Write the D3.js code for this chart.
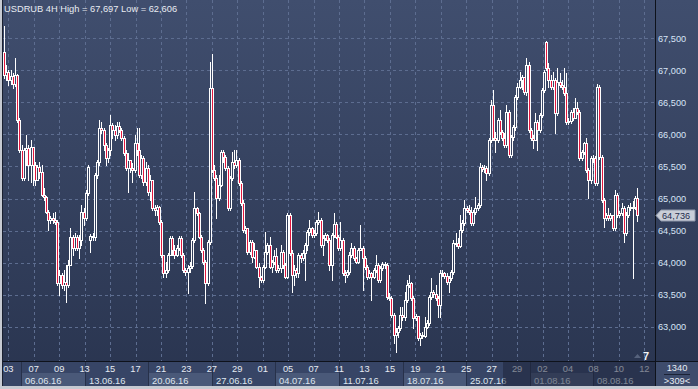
<!DOCTYPE html>
<html>
<head>
<meta charset="utf-8">
<script src="https://cdn.jsdelivr.net/npm/d3@7"></script>
<style>
html, body { margin: 0; padding: 0; background: #c6cad2; overflow: hidden; }
svg { display: block; font-family: "Liberation Sans", Arial, sans-serif; }
</style>
</head>
<body>
<svg id="chart" width="698" height="389"></svg>
<script>
// USDRUB 4H candles (open = previous close except listed gaps)
const firstOpen = 67.29;
const gapIndex = [39, 245];
const gapOpen  = [64.35, 67.44];

const closes = [
  66.93,66.97,66.85,66.91,66.79,66.93,66.22,65.76,65.32,65.76,
  65.79,65.52,65.80,65.52,65.29,65.49,65.41,65.05,65.02,64.79,
  64.67,64.70,64.67,64.63,63.68,63.81,63.65,63.70,63.65,63.96,
  64.40,64.23,64.40,64.23,64.35,64.79,64.70,65.09,65.49,64.41,
  64.40,65.37,65.57,66.10,66.07,65.83,65.63,65.76,66.15,66.07,
  65.99,66.13,66.07,65.94,65.71,65.48,65.60,65.48,65.45,65.87,
  65.76,65.37,65.63,65.26,65.48,65.10,65.29,64.85,64.82,64.87,
  64.63,64.12,63.84,63.89,64.12,64.38,64.20,64.12,64.23,64.38,
  64.12,63.89,63.85,63.92,63.95,64.35,64.85,64.77,64.40,64.20,
  64.01,63.68,64.32,66.72,65.45,65.32,65.01,65.21,65.73,65.65,
  65.48,64.85,65.32,65.57,65.52,65.60,65.24,64.93,64.51,64.54,
  64.17,64.32,64.09,64.20,63.93,63.78,63.73,63.93,64.17,64.27,
  63.93,64.01,64.10,63.89,63.92,64.17,63.96,63.78,64.74,64.15,
  63.81,63.89,63.84,64.12,64.07,64.15,64.27,64.48,64.54,64.43,
  64.46,64.63,64.67,64.27,64.38,64.43,64.35,63.96,64.43,64.60,
  64.40,64.23,64.35,63.84,63.81,63.85,64.12,64.23,64.07,64.01,
  64.20,64.23,64.07,63.93,63.78,63.84,63.78,63.89,63.96,63.73,
  63.92,63.98,63.96,63.46,63.45,63.18,62.87,62.92,62.98,63.18,
  63.15,63.42,63.65,63.68,63.45,63.14,63.17,62.82,62.87,62.85,
  62.99,63.06,63.46,63.54,63.51,63.45,63.34,63.84,63.84,63.79,
  63.70,63.76,63.85,64.30,64.30,64.26,64.51,64.62,64.85,64.82,
  64.79,64.62,64.79,64.85,64.90,65.49,65.46,65.48,65.40,65.91,
  66.46,65.94,65.91,66.22,66.04,65.94,65.83,66.35,65.68,65.96,
  66.12,66.58,66.74,66.85,66.90,66.66,67.08,66.07,65.94,65.91,
  66.19,66.07,66.30,66.69,66.97,67.04,66.85,66.74,66.85,66.33,
  66.82,66.77,66.74,66.65,66.19,66.21,66.35,66.26,66.41,66.35,
  65.63,65.73,65.87,65.45,65.29,65.63,65.63,65.24,66.74,65.65,
  64.98,64.70,64.74,64.70,64.74,64.54,65.05,64.74,64.77,64.85,
  64.46,64.74,64.87,64.85,64.87,65.01,64.736
];

const highs = [
  67.697,67.08,67.01,67.01,66.96,67.19,66.94,66.25,65.83,65.79,
  65.99,65.83,65.91,65.60,65.57,65.52,65.57,65.52,65.16,65.04,
  64.82,64.73,64.77,64.79,64.67,63.89,63.84,63.89,63.96,64.04,
  64.54,64.43,64.46,64.43,64.43,64.90,64.85,65.13,65.52,64.45,
  64.46,65.40,65.60,66.22,66.19,66.10,65.87,65.79,66.30,66.18,
  66.15,66.19,66.19,66.10,65.97,65.76,65.71,65.60,65.55,65.99,
  66.10,66.10,65.68,65.66,65.57,65.52,65.37,65.29,64.90,64.90,
  64.88,64.67,64.12,64.01,64.15,64.41,64.41,64.27,64.27,64.41,
  64.41,64.15,63.92,63.96,64.01,64.38,65.10,64.87,64.79,64.43,
  64.23,64.04,64.35,67.13,67.25,65.52,65.37,65.37,65.76,65.76,
  65.68,65.51,65.35,65.73,65.76,65.76,65.63,65.27,64.98,64.57,
  64.54,64.35,64.35,64.30,64.17,63.99,63.79,63.96,64.48,64.30,
  64.40,64.04,64.20,64.23,63.96,64.27,64.20,63.99,64.77,64.77,
  64.20,63.96,63.92,64.15,64.15,64.20,64.30,64.51,64.67,64.56,
  64.51,64.67,64.79,64.70,64.43,64.46,64.45,64.38,64.46,64.77,
  64.63,64.43,64.63,64.38,63.89,63.89,64.17,64.30,64.26,64.09,
  64.23,64.59,64.26,64.10,63.96,63.89,63.85,63.92,64.12,63.99,
  63.95,64.01,64.01,63.99,63.53,63.48,63.21,62.98,63.01,63.31,
  63.31,63.54,63.73,63.81,63.70,63.48,63.20,63.17,62.90,62.92,
  63.15,63.10,63.49,63.76,63.57,63.65,63.48,63.89,63.89,63.85,
  63.84,63.79,63.89,64.35,64.46,64.38,64.74,64.67,64.98,64.88,
  64.90,64.87,64.82,65.02,64.93,65.55,65.52,65.52,65.51,65.94,
  66.54,66.69,66.04,66.26,66.38,66.07,66.02,66.46,66.38,65.99,
  66.15,66.62,66.80,66.97,66.93,66.88,67.19,67.13,66.10,65.99,
  66.33,66.22,66.33,66.72,67.01,67.46,67.11,66.93,66.97,66.88,
  67.04,66.96,66.85,67.04,66.96,66.26,66.38,66.41,66.57,66.51,
  66.38,65.76,65.88,65.94,65.48,65.66,65.68,65.66,66.79,66.77,
  65.68,65.01,64.77,64.85,64.77,64.74,65.13,65.08,64.80,64.93,
  64.88,64.79,64.90,64.93,64.96,65.04,65.16
];

const lows = [
  66.88,66.85,66.77,66.79,66.72,66.76,66.19,65.73,65.29,65.29,
  65.52,65.29,65.26,65.21,65.21,65.29,65.32,65.04,64.98,64.77,
  64.51,64.62,64.62,64.60,63.65,63.49,63.60,63.57,63.39,63.62,
  63.96,64.12,64.20,64.20,64.07,64.27,64.59,64.67,65.05,64.17,
  64.35,64.35,65.32,65.52,66.02,65.76,65.52,65.57,65.68,65.94,
  65.91,65.94,66.04,65.91,65.68,65.45,65.10,65.41,65.26,65.41,
  65.68,65.34,65.32,65.21,65.21,65.05,64.98,64.82,64.74,64.74,
  64.60,64.09,63.78,63.78,63.85,64.12,64.12,64.07,64.10,64.20,
  64.09,63.85,63.81,63.53,63.85,63.92,64.32,64.74,64.38,64.17,
  63.98,63.37,63.65,64.29,65.41,65.29,64.70,64.98,65.19,65.57,
  65.45,64.82,64.82,65.29,65.48,65.49,65.21,64.90,64.48,64.46,
  64.13,64.13,64.01,64.07,63.92,63.62,63.70,63.70,63.92,64.13,
  63.92,63.85,63.98,63.85,63.85,63.85,63.92,63.76,63.76,64.12,
  63.54,63.65,63.78,63.78,64.01,64.04,63.73,64.20,64.43,64.40,
  64.40,64.43,64.60,64.24,64.12,64.35,64.32,63.89,63.73,64.40,
  64.38,64.20,64.20,63.81,63.70,63.78,63.82,64.09,64.04,63.99,
  63.99,64.20,63.57,63.90,63.74,63.76,63.42,63.76,63.85,63.70,
  63.70,63.89,63.92,63.43,63.42,63.15,62.75,62.606,62.84,62.95,
  63.10,63.10,63.39,63.62,63.42,62.98,63.10,62.79,62.71,62.82,
  62.84,62.98,63.03,63.43,63.46,63.42,63.15,63.15,63.79,63.76,
  63.67,63.54,63.73,63.82,64.26,64.23,64.24,64.48,64.59,64.79,
  64.76,64.59,64.59,64.76,64.82,64.87,65.43,65.41,65.29,65.37,
  65.88,65.91,65.73,65.88,66.01,65.91,65.80,65.80,65.65,65.65,
  65.91,66.07,66.55,66.72,66.71,66.63,66.62,66.04,65.91,65.79,
  65.91,65.76,66.04,66.27,66.66,67.01,66.74,66.71,66.71,66.02,
  66.30,66.74,66.71,66.62,66.16,66.16,66.18,66.22,66.26,66.32,
  65.60,65.60,65.70,65.41,65.01,65.24,65.57,65.21,65.21,65.62,
  64.95,64.56,64.67,64.67,64.67,64.51,64.51,64.71,64.71,64.74,
  64.32,64.43,64.71,64.82,63.76,64.84,64.65
];

// x axis: one label every second trading day, weekly boxes
const dayTicks = ["03","07","09","13","15","17","21","23","27","29","01","05","07",
                  "11","13","15","19","21","25","27","29","02","04","08","10","12"];
const weekLabels = ["06.06.16","13.06.16","20.06.16","27.06.16","04.07.16",
                    "11.07.16","18.07.16","25.07.16","01.08.16","08.08.16"];
const priceTicks = [63.0,63.5,64.0,64.5,65.0,65.5,66.0,66.5,67.0,67.5];
const barCountText = "1340";
const scrollText = ">309<";
const zoomText = "7";

// -------- layout --------
const W = 698, H = 389;
const PL = 3, PR = 655, PT = 0, PB = 361, AB = 386;

const svg = d3.select("#chart");
const defs = svg.append("defs");
const grad = defs.append("linearGradient")
    .attr("id", "bg").attr("gradientUnits", "userSpaceOnUse")
    .attr("x1", 0).attr("y1", 0).attr("x2", 0).attr("y2", H);
grad.append("stop").attr("offset", 0).attr("stop-color", "#404e6e");
grad.append("stop").attr("offset", 1).attr("stop-color", "#29344f");
defs.append("clipPath").attr("id", "plotclip")
    .append("rect").attr("x", PL).attr("y", PT).attr("width", PR - PL).attr("height", PB - PT);

svg.append("rect").attr("width", W).attr("height", H).attr("fill", "#c6cad2");
svg.append("rect").attr("x", PL).attr("y", 0).attr("width", W - PL).attr("height", AB)
    .attr("fill", "url(#bg)");

const n = Math.min(closes.length, highs.length, lows.length);
const opens = closes.slice(0, n).map(function(c, i){
    const g = gapIndex.indexOf(i);
    if (g >= 0) return gapOpen[g];
    return i === 0 ? firstOpen : closes[i - 1];
});

const x = d3.scaleLinear().domain([0, n - 1]).range([4, 637]);
const dayX = d3.scaleLinear().domain([0, 50]).range([8.3, 644.3]);
const y = d3.scaleLinear().domain([63.0, 67.5]).range([326.7, 38.3]);

// grid
const grid = svg.append("g").attr("clip-path", "url(#plotclip)")
    .attr("stroke", "#5d6d90").attr("stroke-width", 1).attr("stroke-dasharray", "3,3");
grid.selectAll(".hg").data(priceTicks).join("line")
    .attr("x1", PL).attr("x2", PR)
    .attr("y1", d => Math.round(y(d)) + 0.5).attr("y2", d => Math.round(y(d)) + 0.5);
grid.selectAll(".vg").data(dayTicks).join("line")
    .attr("x1", (d, i) => Math.round(dayX(i * 2)) + 0.5)
    .attr("x2", (d, i) => Math.round(dayX(i * 2)) + 0.5)
    .attr("y1", PT).attr("y2", PB);

// candles
const candles = svg.append("g").attr("clip-path", "url(#plotclip)");
const bars = d3.range(n);
bars.forEach(function(i){
    const xi = Math.round(x(i));
    const o = opens[i], c = closes[i];
    const yTop = Math.round(y(Math.max(o, c)));
    const yBot = Math.round(y(Math.min(o, c)));
    const g = candles.append("g");
    g.append("line")
        .attr("x1", xi + 0.5).attr("x2", xi + 0.5)
        .attr("y1", Math.round(y(highs[i]))).attr("y2", Math.round(y(lows[i])) + 1)
        .attr("stroke", "#ffffff").attr("stroke-width", 1);
    g.append("rect")
        .attr("x", xi - 0.5).attr("y", yTop + 0.5)
        .attr("width", 2).attr("height", Math.max(yBot - yTop, 1))
        .attr("fill", c < o ? "#e3173e" : "url(#bg)")
        .attr("stroke", "#ffffff").attr("stroke-width", 1);
});

// bottom axis panel
const axisG = svg.append("g");
axisG.append("rect").attr("x", PL).attr("y", PB).attr("width", PR - PL).attr("height", AB - PB)
    .attr("fill", "#374566");
weekLabels.forEach(function(w, k){
    const x0 = dayX(1 + k * 5), x1 = Math.min(dayX(6 + k * 5), PR);
    if (k % 2 === 0) {
        axisG.append("rect").attr("x", Math.round(x0) + 1).attr("y", 373)
            .attr("width", Math.round(x1) - Math.round(x0) - 1).attr("height", AB - 373)
            .attr("fill", "#4a5979");
    }
    axisG.append("line").attr("x1", Math.round(x0) + 0.5).attr("x2", Math.round(x0) + 0.5)
        .attr("y1", PB).attr("y2", AB).attr("stroke", "#27314a");
    axisG.append("text").attr("x", Math.round(x0) + 4).attr("y", 383.5)
        .attr("font-size", "9.4px").attr("fill", "#dfe5ef").text(w);
});
axisG.selectAll(".dt").data(dayTicks).join("text")
    .attr("x", (d, i) => dayX(i * 2)).attr("y", 371.5)
    .attr("text-anchor", "middle").attr("font-size", "9.3px").attr("fill", "#e6ebf3")
    .text(d => d);
// shaded area of the bottom axis (future / inactive part)
axisG.append("rect").attr("x", Math.round(dayX(38.9))).attr("y", PB + 1)
    .attr("width", PR - Math.round(dayX(38.9))).attr("height", AB - PB - 1)
    .attr("fill", "#1b2236").attr("fill-opacity", 0.5);

// frame lines
svg.append("line").attr("x1", PL).attr("x2", W).attr("y1", PB + 0.5).attr("y2", PB + 0.5)
    .attr("stroke", "#0e121b");
svg.append("line").attr("x1", PR + 0.5).attr("x2", PR + 0.5).attr("y1", 0).attr("y2", AB)
    .attr("stroke", "#0e121b");
svg.append("line").attr("x1", 2.5).attr("x2", 2.5).attr("y1", 0).attr("y2", AB)
    .attr("stroke", "#1a2030");

// right price axis
const fmt = v => d3.format(".3f")(v).replace(".", ",");
svg.append("g").selectAll("text").data(priceTicks).join("text")
    .attr("x", 658).attr("y", d => y(d)).attr("dy", "0.35em")
    .attr("font-size", "9.2px").attr("fill", "#d8e4f6")
    .text(d => fmt(d));

// last price marker
const last = closes[n - 1];
const ly = Math.round(y(last)) + 0.5;
svg.append("path")
    .attr("d", "M656," + ly + " L661," + (ly - 5.5) + " L695," + (ly - 5.5) +
               " L695," + (ly + 5.5) + " L661," + (ly + 5.5) + " Z")
    .attr("fill", "#c9ced8").attr("stroke", "#8e97aa");
svg.append("text").attr("x", 662).attr("y", ly).attr("dy", "0.35em")
    .attr("font-size", "9.2px").attr("fill", "#1f2d4c").text(fmt(last));

// bottom-right info box
svg.append("rect").attr("x", PR + 1).attr("y", PB + 1).attr("width", W - PR - 1).attr("height", AB - PB - 1)
    .attr("fill", "#3e4c6c");
svg.append("text").attr("x", 677).attr("y", 371).attr("text-anchor", "middle")
    .attr("font-size", "9.3px").attr("fill", "#e6ebf3").text(barCountText);
svg.append("line").attr("x1", 664).attr("x2", 690).attr("y1", 374.5).attr("y2", 374.5)
    .attr("stroke", "#1c2336");
svg.append("text").attr("x", 677).attr("y", 384).attr("text-anchor", "middle")
    .attr("font-size", "9.3px").attr("fill", "#e6ebf3").text(scrollText);

// zoom indicator
svg.append("path").attr("d", "M634,358 L637.5,354 L641,358 Z").attr("fill", "#56627c");
svg.append("text").attr("x", 643).attr("y", 359.5)
    .attr("font-size", "11px").attr("font-weight", "bold").attr("fill", "#f2f4f8").text(zoomText);

// title
svg.append("text").attr("x", 4).attr("y", 12)
    .attr("font-size", "9.3px").attr("fill", "#e9ecf2")
    .text("USDRUB 4H High = " + fmt(d3.max(highs)) + " Low = " + fmt(d3.min(lows)));
</script>
</body>
</html>
